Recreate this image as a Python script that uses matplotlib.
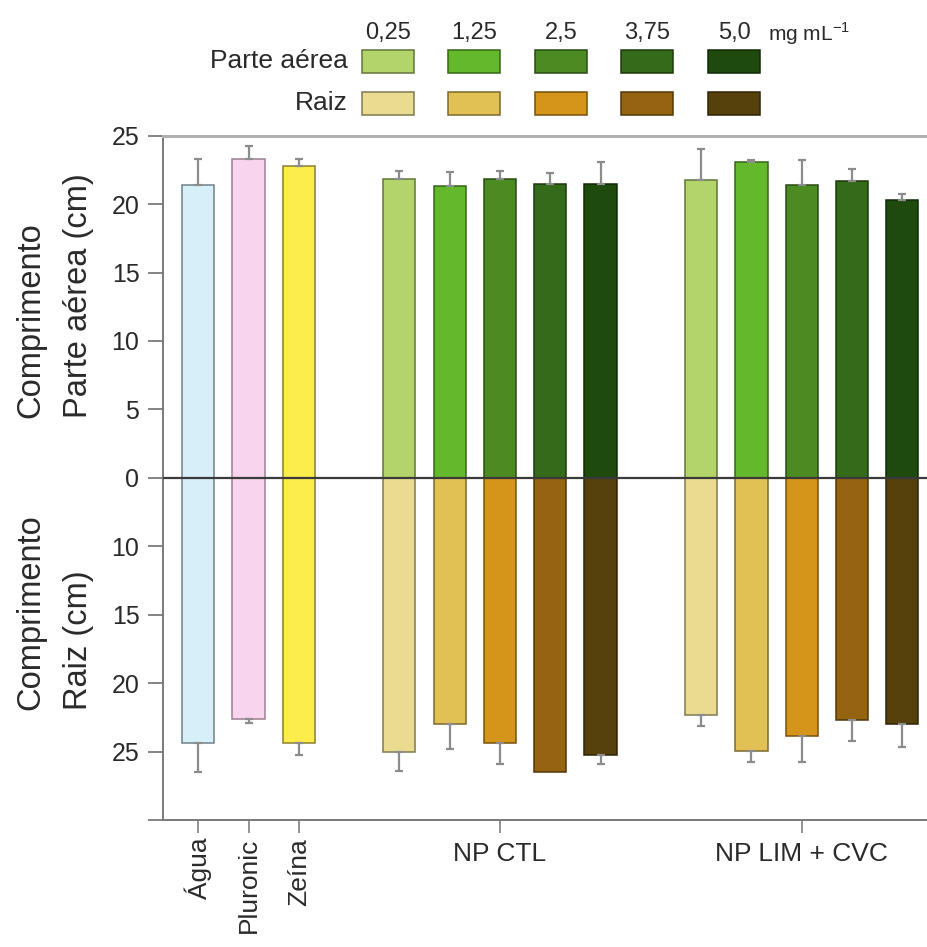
import matplotlib
matplotlib.use("Agg")
import matplotlib.pyplot as plt
from matplotlib.patches import Rectangle
import numpy as np

plt.rcParams['font.family'] = ['Liberation Sans', 'DejaVu Sans']

# ---------------- data ----------------
controls = ["Água", "Pluronic", "Zeína"]
control_shoot = [21.4, 23.3, 22.8]
control_shoot_err = [1.9, 0.95, 0.5]
control_root = [24.4, 22.6, 24.4]
control_root_err = [2.1, 0.3, 0.85]
control_colors = ["#d6eff9", "#f9d4ee", "#fcec4c"]
control_edges = ["#6f8088", "#9a8090", "#8a8030"]

groups = ["NP CTL", "NP LIM + CVC"]
concentrations = ["0,25", "1,25", "2,5", "3,75", "5,0"]
ctl_shoot = [21.85, 21.35, 21.85, 21.45, 21.5]
ctl_shoot_err = [0.55, 1.0, 0.55, 0.85, 1.6]
lim_shoot = [21.75, 23.1, 21.4, 21.7, 20.3]
lim_shoot_err = [2.3, 0.15, 1.85, 0.85, 0.45]
ctl_root = [25.0, 23.0, 24.4, 26.5, 25.25]
ctl_root_err = [1.4, 1.8, 1.5, 0.0, 0.65]
lim_root = [22.3, 24.95, 23.85, 22.7, 22.95]
lim_root_err = [0.8, 0.8, 1.9, 1.5, 1.75]

shoot_colors = ["#b2d46a", "#64b82c", "#4c8a22", "#356a1a", "#1f4a0e"]
root_colors = ["#e9dc90", "#e2c154", "#d4951a", "#946410", "#56400c"]

upper_ticks = [25, 20, 15, 10, 5, 0]
lower_ticks = [10, 15, 20, 25]
root_offset = 5  # lower axis starts at 5 cm at the zero line

# ---------------- figure ----------------
W, H = 928, 947
fig = plt.figure(figsize=(W / 100, H / 100), dpi=100)

def fx(x):
    return x / W

def fy(y):
    return 1 - y / H

ax_left, ax_right, ax_top, ax_bot = 163, 928, 135.7, 820
ax = fig.add_axes([fx(ax_left), fy(ax_bot), fx(ax_right) - fx(ax_left), fy(ax_top) - fy(ax_bot)])

ctrl_pos = np.arange(len(controls))
ctl_pos = np.arange(len(concentrations)) + 4
lim_pos = np.arange(len(concentrations)) + 10
bw = 0.64

def darker(c, f=0.55):
    c = np.array(matplotlib.colors.to_rgb(c))
    return tuple(c * f)

err_kw = dict(ecolor="#8c8c8c", elinewidth=1.6, capsize=3, capthick=1.6)

# controls
for i in range(len(controls)):
    ax.bar(ctrl_pos[i], control_shoot[i], bw, color=control_colors[i], edgecolor=control_edges[i],
           linewidth=1.1, yerr=[[0], [control_shoot_err[i]]], error_kw=err_kw, zorder=2)
    ax.bar(ctrl_pos[i], -(control_root[i] - root_offset), bw, color=control_colors[i],
           edgecolor=control_edges[i], linewidth=1.1,
           yerr=[[control_root_err[i]], [0]], error_kw=err_kw, zorder=2)

# treatments
for pos, sh, she, rt, rte in [(ctl_pos, ctl_shoot, ctl_shoot_err, ctl_root, ctl_root_err),
                              (lim_pos, lim_shoot, lim_shoot_err, lim_root, lim_root_err)]:
    for i in range(len(concentrations)):
        ax.bar(pos[i], sh[i], bw, color=shoot_colors[i], edgecolor=darker(shoot_colors[i]),
               linewidth=1.1, yerr=[[0], [she[i]]], error_kw=err_kw, zorder=2)
        ax.bar(pos[i], -(rt[i] - root_offset), bw, color=root_colors[i],
               edgecolor=darker(root_colors[i]), linewidth=1.1,
               yerr=[[rte[i]], [0]] if rte[i] > 0 else None, error_kw=err_kw, zorder=2)

ax.axhline(0, color="#3a3a3a", lw=1.6, zorder=3)

ax.set_xlim(-0.70, 14.51)
ax.set_ylim(-25, 25)

ytick_pos = upper_ticks + [-(v - root_offset) for v in lower_ticks] + [-25]
ytick_lab = [str(v) for v in upper_ticks] + [str(v) for v in lower_ticks] + [""]
ax.set_yticks(ytick_pos)
ax.set_yticklabels(ytick_lab, fontsize=18, color="#2a2a2a")
ax.tick_params(axis="y", direction="out", length=11, width=1.3, color="#7a7a7a", pad=6)

xt_pos = list(ctrl_pos) + [ctl_pos[2], lim_pos[2]]
ax.set_xticks(xt_pos)
ax.set_xticklabels([""] * len(xt_pos))
ax.tick_params(axis="x", direction="out", length=9, width=1.3, color="#8a8a8a")

for i, lab in enumerate(controls):
    ax.text(ctrl_pos[i], -26.3, lab, rotation=90, ha="center", va="top", fontsize=19,
            color="#2a2a2a")
ax.text(ctl_pos[2], -26.6, groups[0], ha="center", va="top", fontsize=19, color="#2a2a2a")
ax.text(lim_pos[2], -26.6, groups[1], ha="center", va="top", fontsize=19, color="#2a2a2a")

for s in ["left", "bottom"]:
    ax.spines[s].set_color("#7a7a7a")
    ax.spines[s].set_linewidth(1.4)
ax.spines["top"].set_color("#b0b0b0")
ax.spines["top"].set_linewidth(2.2)
ax.spines["right"].set_visible(False)

# y labels
fig.text(fx(31), fy(418), "Comprimento", rotation=90, ha="center", va="bottom", fontsize=23.5,
         color="#2a2a2a")
fig.text(fx(79), fy(418), "Parte aérea (cm)", rotation=90, ha="center", va="bottom", fontsize=23.5,
         color="#2a2a2a")
fig.text(fx(31), fy(710), "Comprimento", rotation=90, ha="center", va="bottom", fontsize=23.5,
         color="#2a2a2a")
fig.text(fx(79), fy(710), "Raiz (cm)", rotation=90, ha="center", va="bottom", fontsize=23.5,
         color="#2a2a2a")

# legend
box_w, box_h = 52, 23
box_x0, box_dx = 362, 86.5
rows = [("Parte aérea", shoot_colors, 61.5), ("Raiz", root_colors, 103.5)]
for name, cols, yc in rows:
    fig.text(fx(348), fy(yc), name, ha="right", va="center", fontsize=19, color="#2a2a2a")
    for i, c in enumerate(cols):
        x0 = box_x0 + box_dx * i
        fig.patches.append(Rectangle((fx(x0), fy(yc + box_h / 2)), fx(box_w), box_h / H,
                                     transform=fig.transFigure, facecolor=c,
                                     edgecolor=darker(c), linewidth=1.1))
for i, lab in enumerate(concentrations):
    fig.text(fx(box_x0 + box_dx * i + box_w / 2), fy(33), lab, ha="center", va="center",
             fontsize=17, color="#2a2a2a")
fig.text(fx(768), fy(34), "mg mL$^{\\mathregular{-1}}$", ha="left", va="center", fontsize=15,
         color="#2a2a2a")

fig.savefig("out.png", dpi=100)
